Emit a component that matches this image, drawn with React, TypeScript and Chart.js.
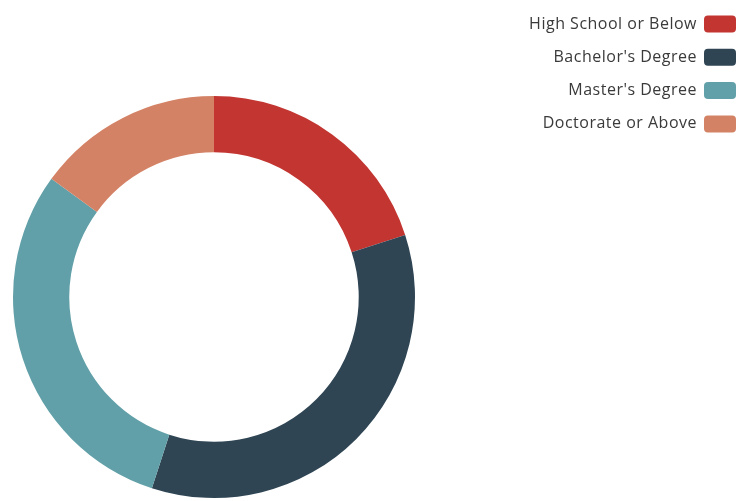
import React, { useEffect, useRef } from "react";
import { Chart, registerables } from "chart.js";

Chart.register(...registerables);

const categories = ["High School or Below", "Bachelor's Degree", "Master's Degree", "Doctorate or Above"];
const values = [20, 35, 30, 15];
const colors = ["#c23531", "#2f4554", "#61a0a8", "#d48265"];

const rightLegend = {
  id: "rightLegend",
  afterDraw(chart: any) {
    const ctx = chart.ctx;
    const labels = chart.data.labels as string[];
    const bg = chart.data.datasets[0].backgroundColor as string[];
    ctx.save();
    ctx.font = "16px 'Open Sans', sans-serif";
    try {
      (ctx as any).letterSpacing = "0.5px";
    } catch (e) {}
    ctx.textAlign = "right";
    ctx.textBaseline = "middle";
    const boxW = 32;
    const boxH = 17;
    const boxX = 704;
    const textX = 697;
    labels.forEach((lab, i) => {
      const cy = 24 + i * 33.3;
      ctx.fillStyle = "#3a3a3a";
      ctx.fillText(lab, textX, cy);
      ctx.fillStyle = bg[i];
      ctx.beginPath();
      (ctx as any).roundRect(boxX, cy - boxH / 2, boxW, boxH, 4);
      ctx.fill();
    });
    ctx.restore();
  },
};

export default function App() {
  const ref = useRef<HTMLCanvasElement | null>(null);
  useEffect(() => {
    if (!ref.current) return;
    const chart = new Chart(ref.current, {
      type: "doughnut",
      data: {
        labels: categories,
        datasets: [
          {
            data: values,
            backgroundColor: colors,
            borderWidth: 0,
            hoverOffset: 0,
          },
        ],
      },
      options: {
        animation: false,
        responsive: false,
        maintainAspectRatio: false,
        cutout: "72%",
        layout: { padding: { left: 13, right: 323, top: 96, bottom: 3 } },
        plugins: {
          legend: { display: false },
          tooltip: { enabled: false },
        },
      },
      plugins: [rightLegend],
    });
    return () => chart.destroy();
  }, []);
  return (
    <div style={{ position: "fixed", left: 0, top: 0, width: 738, height: 501, background: "#fff" }}>
      <canvas ref={ref} width={738} height={501} style={{ width: 738, height: 501, display: "block" }} />
    </div>
  );
}
